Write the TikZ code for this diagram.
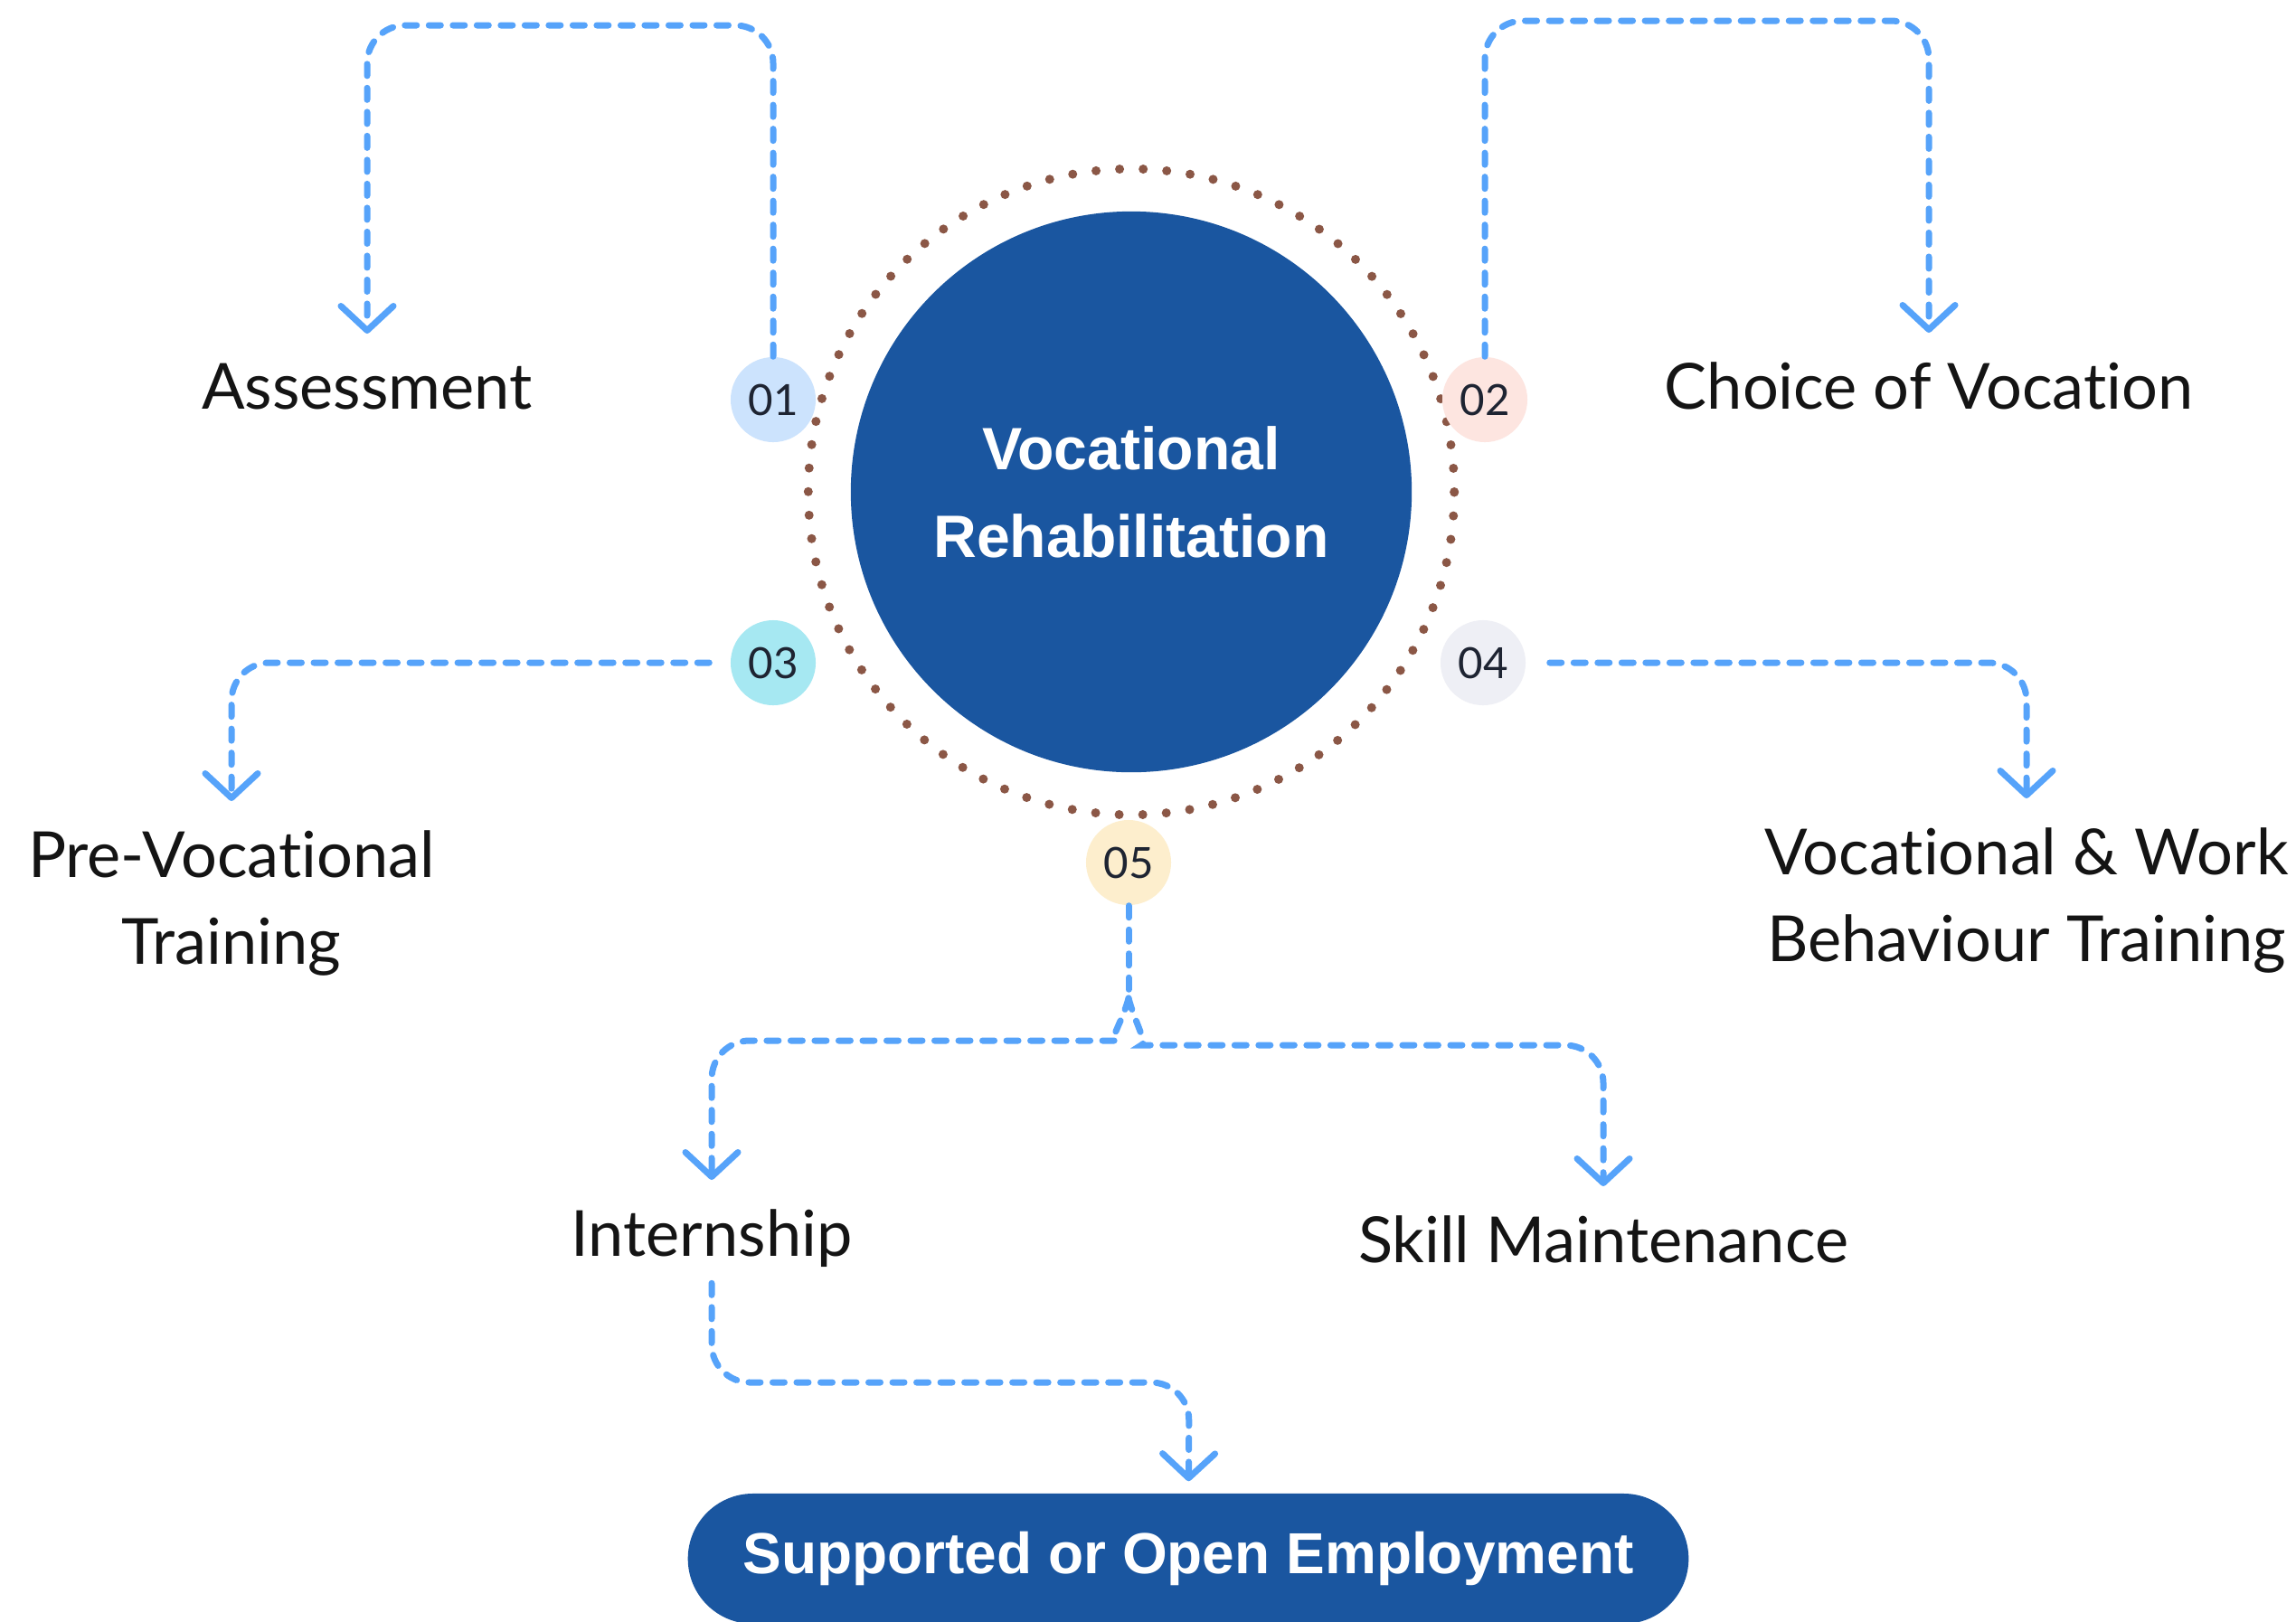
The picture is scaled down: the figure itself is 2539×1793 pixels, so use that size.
\documentclass[tikz,border=0pt]{standalone}
\usepackage{fontspec}
\setmainfont{Lato}[Ligatures={NoCommon,NoContextual,NoRare}]
\newfontfamily\boldf{Liberation Sans}
\usetikzlibrary{arrows.meta}

\definecolor{mainblue}{RGB}{26,86,160}
\definecolor{linkblue}{RGB}{86,163,250}
\definecolor{dotbrown}{RGB}{139,87,70}
\definecolor{c1}{RGB}{204,227,253}
\definecolor{c2}{RGB}{253,229,224}
\definecolor{c3}{RGB}{166,232,242}
\definecolor{c4}{RGB}{238,239,245}
\definecolor{c5}{RGB}{253,238,205}
\definecolor{numtext}{RGB}{30,36,50}

\tikzset{
  conn/.style={draw=linkblue, line width=0.07cm, line cap=round,
    dash pattern=on 0.13cm off 0.135cm, rounded corners=0.42cm},
  tipped/.style={-{Straight Barb[length=0.27cm,width=0.58cm,round]}},
  lbl/.style={font=\fontsize{20}{27.3}\selectfont, text=black!92, anchor=north,
    inner xsep=0pt, inner ysep=0.32cm, align=center},
  num/.style={circle, minimum size=0.94cm, inner sep=0pt,
    font=\fontsize{13.5}{15}\selectfont, text=numtext},
}

\begin{document}
\begin{tikzpicture}[x=0.01cm, y=-0.01cm]
\useasboundingbox (0,0) rectangle (2539,1793);
\fill[white] (0,0) rectangle (2539,1793);

% dotted ring
\draw[dotbrown, line width=0.1cm, line cap=round, dash pattern=on 0pt off 0.2608cm]
  (1251,544) circle[radius=3.57cm];

% centre
\node[circle, fill=mainblue, minimum size=6.2cm, inner sep=0pt, text=white, align=center,
  font=\boldf\bfseries\fontsize{18.8}{27.6}\selectfont] (vr) at (1251,544)
  {Vocational\\Rehabilitation};

% numbers
\node[num, fill=c1] (n1) at (855,442) {01};
\node[num, fill=c2] (n2) at (1642,442) {02};
\node[num, fill=c3] (n3) at (855,733) {03};
\node[num, fill=c4] (n4) at (1640,733) {04};
\node[num, fill=c5] (n5) at (1248,954) {05};

% labels
\node[lbl] (ass) at (406,369) {Assessment};
\node[lbl] (cho) at (2133,368) {Choice of Vocation};
\node[lbl] (pre) at (256,886) {Pre-Vocational\\Training};
\node[lbl] (vwb) at (2241,883) {Vocational \& Work\\Behaviour Training};
\node[lbl] (int) at (787,1305) {Internship};
\node[lbl] (skl) at (1773,1312) {Skill Maintenance};

% employment pill
\node[fill=mainblue, rounded corners=0.72cm, minimum width=11.06cm, minimum height=1.44cm,
  inner sep=0pt, text=white, font=\boldf\bfseries\fontsize{18.2}{22}\selectfont]
  (emp) at (1314,1724) {Supported or Open Employment};

% connectors
\draw[conn, tipped] (n1.north) |- (406,28) -- (ass);
\draw[conn, tipped] (n2.north) |- (2133,23) -- (cho);
\draw[conn, tipped, shorten <=0.23cm] (n3.west) -| (pre);
\draw[conn, tipped, shorten <=0.26cm] (n4.east) -| (vwb);
\coordinate (j) at (1248,1104);
\draw[conn] (n5.south) -- (j);
\draw[conn, tipped] (j) .. controls (1242,1128) and (1226,1151) .. (1192,1151) -| (int);
\draw[conn, tipped] (j) .. controls (1254,1128) and (1270,1156) .. (1304,1156) -| (skl);
\draw[conn, tipped, shorten >=0.13cm, shorten <=-0.15cm] (int.south) |- (1315,1529) -- (emp);
\end{tikzpicture}
\end{document}
